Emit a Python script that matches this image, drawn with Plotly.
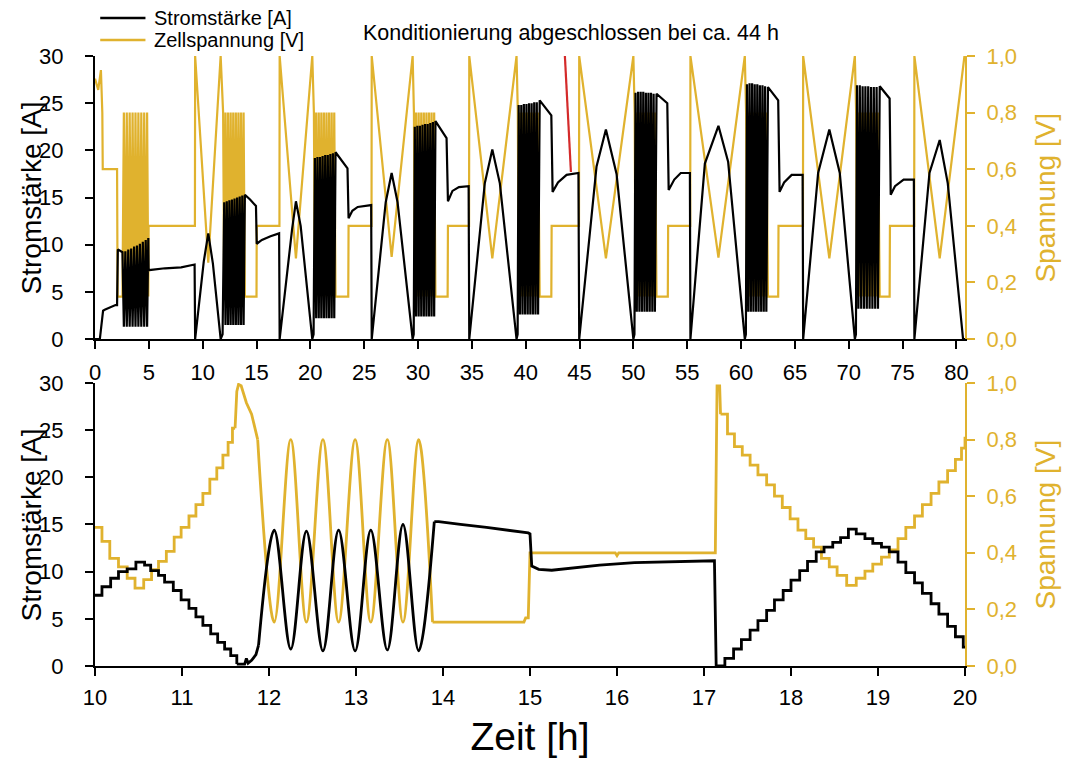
import plotly.graph_objects as go

GOLD = "#E0B22E"
FONT = "Liberation Sans, Arial, sans-serif"

# ---------------- top panel (0 - 81 h) ----------------
top_current = [
    (0.0, 0.0), (0.45, 0.0), (0.75, 3.0), (0.9, 3.1), (1.9, 3.6), (2.05, 3.6), (2.12, 9.5), (2.55, 9.2),
    (2.68, 1.3), (2.82, 9.3), (2.95, 1.3), (3.09, 9.5), (3.22, 1.3), (3.36, 9.6), (3.49, 1.3), (3.63, 9.8),
    (3.76, 1.3), (3.90, 9.9), (4.03, 1.3), (4.17, 10.1), (4.30, 1.3), (4.44, 10.3), (4.57, 1.3), (4.71, 10.5),
    (4.84, 1.3), (4.95, 10.7), (4.98, 7.3), (6.5, 7.5), (8.0, 7.6), (9.25, 7.9), (9.3, 0.0),
    (10.1, 8.2), (10.52, 11.2), (10.95, 8.0), (11.67, 0.0), (11.85, 0.5),
    (12.0, 14.5), (12.12, 1.5), (12.24, 14.6), (12.36, 1.5), (12.48, 14.7), (12.60, 1.5), (12.72, 14.8),
    (12.84, 1.5), (12.96, 14.9), (13.08, 1.5), (13.20, 15.0), (13.32, 1.5), (13.44, 15.1), (13.56, 1.5),
    (13.68, 15.2), (13.80, 1.5), (13.92, 15.3),
    (14.4, 14.8), (14.95, 14.1), (15.02, 10.1), (15.5, 10.5), (16.3, 10.9), (17.1, 11.2), (17.15, 0.0),
    (18.3, 11.6), (18.66, 14.6), (19.1, 12.0), (20.18, 0.0), (20.3, 0.5),
    (20.42, 19.2), (20.54, 2.2), (20.66, 19.3), (20.78, 2.2), (20.90, 19.3), (21.02, 2.2), (21.14, 19.4),
    (21.26, 2.2), (21.38, 19.5), (21.50, 2.2), (21.62, 19.5), (21.74, 2.2), (21.86, 19.6), (21.98, 2.2),
    (22.10, 19.7), (22.22, 2.2), (22.34, 19.8),
    (23.45, 18.1), (23.55, 12.8), (23.9, 13.6), (24.4, 14.0), (25.65, 14.2), (25.7, 0.0),
    (27.0, 14.5), (27.55, 17.6), (28.1, 14.5), (29.5, 0.0), (29.6, 0.5),
    (29.70, 22.5), (29.82, 2.4), (29.94, 22.6), (30.06, 2.4), (30.18, 22.6), (30.30, 2.4), (30.42, 22.7),
    (30.54, 2.4), (30.66, 22.8), (30.78, 2.4), (30.90, 22.8), (31.02, 2.4), (31.14, 22.9), (31.26, 2.4),
    (31.38, 23.0), (31.50, 2.4), (31.62, 23.1),
    (32.65, 21.3), (32.78, 14.6), (33.2, 15.7), (33.8, 16.1), (34.7, 16.2), (34.76, 0.0),
    (36.2, 16.5), (36.9, 20.1), (37.6, 16.5), (39.15, 0.0), (39.25, 0.5),
    (39.35, 24.8), (39.47, 2.6), (39.59, 24.8), (39.71, 2.6), (39.83, 24.9), (39.95, 2.6), (40.07, 24.9),
    (40.19, 2.6), (40.31, 25.0), (40.43, 2.6), (40.55, 25.0), (40.67, 2.6), (40.79, 25.1), (40.91, 2.6),
    (41.03, 25.1), (41.15, 2.6), (41.30, 25.3),
    (42.38, 23.7), (42.5, 15.6), (43.0, 16.6), (43.8, 17.4), (44.9, 17.6), (44.97, 0.0),
    (46.58, 18.3), (47.45, 22.2), (48.44, 17.5), (50.0, 0.0), (50.1, 0.5),
    (50.20, 26.1), (50.32, 2.9), (50.44, 26.2), (50.56, 2.9), (50.68, 26.2), (50.80, 2.9), (50.92, 26.2),
    (51.04, 2.9), (51.16, 26.1), (51.28, 2.9), (51.40, 26.1), (51.52, 2.9), (51.64, 26.1), (51.76, 2.9),
    (51.88, 26.0), (52.00, 2.9), (52.15, 26.0),
    (53.15, 25.0), (53.28, 15.8), (53.8, 16.9), (54.4, 17.6), (55.25, 17.6), (55.3, 0.0),
    (56.64, 18.6), (57.9, 22.6), (58.8, 18.8), (60.35, 0.0), (60.45, 0.5),
    (60.55, 27.0), (60.67, 2.9), (60.79, 27.1), (60.91, 2.9), (61.03, 27.1), (61.15, 2.9), (61.27, 27.0),
    (61.39, 2.9), (61.51, 27.0), (61.63, 2.9), (61.75, 26.9), (61.87, 2.9), (61.99, 26.9), (62.11, 2.9),
    (62.23, 26.8), (62.35, 2.9), (62.5, 26.7),
    (63.45, 25.3), (63.58, 15.6), (64.0, 16.6), (64.7, 17.4), (65.72, 17.4), (65.77, 0.0),
    (67.16, 17.6), (68.2, 22.2), (69.17, 17.6), (70.57, 0.0), (70.67, 0.5),
    (70.77, 26.9), (70.90, 3.2), (71.03, 26.9), (71.16, 3.2), (71.29, 26.8), (71.42, 3.2), (71.55, 26.8),
    (71.68, 3.2), (71.81, 26.8), (71.94, 3.2), (72.07, 26.7), (72.20, 3.2), (72.33, 26.7), (72.46, 3.2),
    (72.59, 26.7), (72.72, 3.2), (72.88, 26.8),
    (73.8, 25.5), (73.9, 15.3), (74.3, 16.2), (75.1, 16.9), (76.05, 16.9), (76.1, 0.0),
    (77.5, 17.6), (78.45, 21.1), (79.2, 16.5), (80.62, 0.0), (80.8, 0.0),
]

top_voltage = [
    (0.0, 0.92), (0.3, 0.88), (0.55, 0.95), (0.68, 0.80), (0.72, 0.60), (2.05, 0.60), (2.1, 0.15), (2.55, 0.15),
    (2.68, 0.80), (2.82, 0.15), (2.95, 0.80), (3.09, 0.15), (3.22, 0.80), (3.36, 0.15), (3.49, 0.80), (3.63, 0.15),
    (3.76, 0.80), (3.90, 0.15), (4.03, 0.80), (4.17, 0.15), (4.30, 0.80), (4.44, 0.15), (4.57, 0.80), (4.71, 0.15),
    (4.84, 0.80), (4.95, 0.15), (4.98, 0.40), (9.28, 0.40), (9.3, 1.0),
    (10.52, 0.27), (11.67, 1.0), (11.9, 0.80),
    (12.0, 0.15), (12.12, 0.80), (12.24, 0.15), (12.36, 0.80), (12.48, 0.15), (12.60, 0.80), (12.72, 0.15),
    (12.84, 0.80), (12.96, 0.15), (13.08, 0.80), (13.20, 0.15), (13.32, 0.80), (13.44, 0.15), (13.56, 0.80),
    (13.68, 0.15), (13.80, 0.80), (13.92, 0.15),
    (15.0, 0.15), (15.02, 0.40), (17.13, 0.40), (17.15, 1.0), (18.66, 0.285), (20.18, 1.0), (20.33, 0.80),
    (20.42, 0.15), (20.54, 0.80), (20.66, 0.15), (20.78, 0.80), (20.90, 0.15), (21.02, 0.80), (21.14, 0.15),
    (21.26, 0.80), (21.38, 0.15), (21.50, 0.80), (21.62, 0.15), (21.74, 0.80), (21.86, 0.15), (21.98, 0.80),
    (22.10, 0.15), (22.22, 0.80), (22.34, 0.15),
    (23.52, 0.15), (23.55, 0.40), (25.68, 0.40), (25.7, 1.0), (27.55, 0.29), (29.5, 1.0), (29.62, 0.80),
    (29.70, 0.15), (29.82, 0.80), (29.94, 0.15), (30.06, 0.80), (30.18, 0.15), (30.30, 0.80), (30.42, 0.15),
    (30.54, 0.80), (30.66, 0.15), (30.78, 0.80), (30.90, 0.15), (31.02, 0.80), (31.14, 0.15), (31.26, 0.80),
    (31.38, 0.15), (31.50, 0.80), (31.62, 0.15),
    (32.75, 0.15), (32.78, 0.40), (34.74, 0.40), (34.76, 1.0), (36.9, 0.285), (39.15, 1.0), (39.27, 0.80),
    (39.35, 0.15), (39.47, 0.80), (39.59, 0.15), (39.71, 0.80), (39.83, 0.15), (39.95, 0.80), (40.07, 0.15),
    (40.19, 0.80), (40.31, 0.15), (40.43, 0.80), (40.55, 0.15), (40.67, 0.80), (40.79, 0.15), (40.91, 0.80),
    (41.03, 0.15), (41.15, 0.80), (41.30, 0.15),
    (42.38, 0.15), (42.41, 0.40), (44.95, 0.40), (44.97, 1.0), (47.45, 0.285), (50.0, 1.0), (50.12, 0.80),
    (50.20, 0.15), (50.32, 0.80), (50.44, 0.15), (50.56, 0.80), (50.68, 0.15), (50.80, 0.80), (50.92, 0.15),
    (51.04, 0.80), (51.16, 0.15), (51.28, 0.80), (51.40, 0.15), (51.52, 0.80), (51.64, 0.15), (51.76, 0.80),
    (51.88, 0.15), (52.00, 0.80), (52.15, 0.15),
    (53.2, 0.15), (53.23, 0.40), (55.28, 0.40), (55.3, 1.0), (57.9, 0.288), (60.35, 1.0), (60.47, 0.80),
    (60.55, 0.15), (60.67, 0.80), (60.79, 0.15), (60.91, 0.80), (61.03, 0.15), (61.15, 0.80), (61.27, 0.15),
    (61.39, 0.80), (61.51, 0.15), (61.63, 0.80), (61.75, 0.15), (61.87, 0.80), (61.99, 0.15), (62.11, 0.80),
    (62.23, 0.15), (62.35, 0.80), (62.5, 0.15),
    (63.45, 0.15), (63.48, 0.40), (65.75, 0.40), (65.77, 1.0), (68.2, 0.285), (70.57, 1.0), (70.69, 0.80),
    (70.77, 0.15), (70.90, 0.80), (71.03, 0.15), (71.16, 0.80), (71.29, 0.15), (71.42, 0.80), (71.55, 0.15),
    (71.68, 0.80), (71.81, 0.15), (71.94, 0.80), (72.07, 0.15), (72.20, 0.80), (72.33, 0.15), (72.46, 0.80),
    (72.59, 0.15), (72.72, 0.80), (72.88, 0.15),
    (73.8, 0.15), (73.83, 0.40), (76.08, 0.40), (76.1, 1.0), (78.45, 0.285), (80.75, 1.0),
]

# marker line for end of conditioning (time h, current A)
cond_line_t = [43.64, 44.2]
cond_line_A = [30.0, 17.7]

# ---------------- bottom panel (10 - 20 h) ----------------
b_cur_stepA_t = [10.00, 10.08, 10.18, 10.27, 10.37, 10.47, 10.57, 10.64, 10.73, 10.80, 10.90, 10.99,
                 11.08, 11.16, 11.24, 11.33, 11.41, 11.49, 11.56, 11.63]
b_cur_stepA = [7.5, 8.4, 9.3, 10.0, 10.3, 11.0, 10.7, 10.1, 9.6, 8.9, 8.0, 7.0,
               6.1, 5.2, 4.3, 3.4, 2.5, 1.8, 1.1, 0.2]
b_cur_start_t = [11.63, 11.72, 11.74, 11.76, 11.80, 11.85, 11.88]
b_cur_start = [0.2, 0.2, 0.8, 0.3, 0.6, 1.2, 2.2]
b_cur_osc_t = [11.88, 12.06, 12.25, 12.43, 12.62, 12.80, 12.99, 13.17, 13.36, 13.54, 13.72, 13.90]
b_cur_osc = [2.2, 14.4, 1.8, 14.3, 1.6, 14.4, 1.6, 14.4, 1.7, 15.0, 1.6, 15.3]
b_cur_hold_t = [13.90, 13.95, 14.2, 14.5, 14.98, 15.0, 15.02, 15.1, 15.25, 15.5, 15.8, 16.2, 16.6, 17.12, 17.14, 17.15]
b_cur_hold = [15.3, 15.3, 15.0, 14.7, 14.1, 14.0, 10.6, 10.25, 10.15, 10.4, 10.7, 10.95, 11.05, 11.15, 0.0, 0.0]
b_cur_stepB_t = [17.15, 17.24, 17.34, 17.43, 17.53, 17.62, 17.72, 17.81, 17.91, 18.00, 18.10, 18.19, 18.29,
                 18.38, 18.48, 18.57, 18.66, 18.75, 18.85, 18.94, 19.04, 19.13, 19.23, 19.32, 19.42, 19.51,
                 19.61, 19.70, 19.80, 19.89, 19.98, 20.0]
b_cur_stepB = [0.0, 0.8, 1.8, 2.8, 3.8, 4.8, 5.9, 7.0, 8.0, 9.1, 10.1, 11.1, 12.1,
               12.6, 13.1, 13.6, 14.5, 14.0, 13.5, 13.0, 12.6, 12.1, 11.0, 9.9, 8.8, 7.7,
               6.6, 5.5, 4.2, 3.1, 2.0, 2.0]

b_volt_stepA_t = [10.00, 10.08, 10.17, 10.27, 10.37, 10.46, 10.56, 10.65, 10.73, 10.82, 10.91, 10.99,
                  11.08, 11.16, 11.24, 11.32, 11.40, 11.47, 11.53, 11.58, 11.61]
b_volt_stepA = [0.49, 0.44, 0.38, 0.35, 0.31, 0.275, 0.305, 0.34, 0.37, 0.405, 0.455, 0.49,
                0.53, 0.57, 0.61, 0.66, 0.70, 0.745, 0.79, 0.84, 0.84]
b_volt_peak_t = [11.61, 11.63, 11.65, 11.68, 11.74, 11.80, 11.87]
b_volt_peak = [0.84, 0.97, 0.995, 0.99, 0.93, 0.89, 0.80]
b_volt_osc_t = [11.87, 12.06, 12.25, 12.43, 12.62, 12.80, 12.99, 13.17, 13.36, 13.54, 13.72, 13.88]
b_volt_osc = [0.80, 0.155, 0.80, 0.155, 0.80, 0.155, 0.80, 0.155, 0.80, 0.155, 0.80, 0.155]
b_volt_hold_t = [13.88, 14.93, 14.95, 14.98, 15.0, 15.98, 16.0, 16.02, 17.13, 17.15, 17.18, 17.19]
b_volt_hold = [0.155, 0.155, 0.17, 0.17, 0.40, 0.40, 0.39, 0.40, 0.40, 0.99, 0.99, 0.89]
b_volt_stepB_t = [17.19, 17.27, 17.35, 17.44, 17.53, 17.62, 17.72, 17.81, 17.90, 17.99, 18.08, 18.17,
                  18.26, 18.35, 18.44, 18.53, 18.64, 18.75, 18.85, 18.94, 19.04, 19.13, 19.23, 19.32,
                  19.42, 19.51, 19.61, 19.70, 19.80, 19.89, 19.96, 20.0]
b_volt_stepB = [0.89, 0.82, 0.775, 0.745, 0.71, 0.675, 0.64, 0.60, 0.56, 0.52, 0.48, 0.45,
                0.42, 0.38, 0.35, 0.32, 0.285, 0.31, 0.335, 0.36, 0.385, 0.41, 0.45, 0.49,
                0.53, 0.57, 0.61, 0.65, 0.69, 0.73, 0.77, 0.81]

x_top_ticks = list(range(0, 81, 5))
x_bot_ticks = list(range(10, 21, 1))
y_cur_ticks = [0, 5, 10, 15, 20, 25, 30]
y_volt_ticks = [0.0, 0.2, 0.4, 0.6, 0.8, 1.0]
y_volt_text = ["0,0", "0,2", "0,4", "0,6", "0,8", "1,0"]
legend_names = ["Stromstärke [A]", "Zellspannung [V]"]

LW_TOP = 2.2
LW_BOT = 2.8
fig = go.Figure()

# top panel: voltage on base axis (y, right), current on overlaying axis (y2, left) so it is drawn on top
fig.add_trace(go.Scatter(x=[p[0] for p in top_voltage], y=[p[1] for p in top_voltage],
                         mode="lines", line=dict(color=GOLD, width=LW_TOP), name=legend_names[1],
                         xaxis="x", yaxis="y", showlegend=False))
fig.add_trace(go.Scatter(x=[p[0] for p in top_current], y=[p[1] for p in top_current],
                         mode="lines", line=dict(color="black", width=LW_TOP), name=legend_names[0],
                         xaxis="x", yaxis="y2", showlegend=False))
fig.add_trace(go.Scatter(x=cond_line_t, y=cond_line_A, mode="lines",
                         line=dict(color="#D42A2A", width=2.2), showlegend=False, xaxis="x", yaxis="y2"))


def add_b(x, y, color, yax, shape="linear"):
    fig.add_trace(go.Scatter(x=x, y=y, mode="lines", line=dict(color=color, width=LW_BOT, shape=shape),
                             showlegend=False, xaxis="x2", yaxis=yax))


add_b(b_volt_stepA_t, b_volt_stepA, GOLD, "y3", "hv")
add_b(b_volt_peak_t, b_volt_peak, GOLD, "y3")
add_b(b_volt_osc_t, b_volt_osc, GOLD, "y3", "spline")
add_b(b_volt_hold_t, b_volt_hold, GOLD, "y3")
add_b(b_volt_stepB_t, b_volt_stepB, GOLD, "y3", "hv")
add_b(b_cur_stepA_t, b_cur_stepA, "black", "y4", "hv")
add_b(b_cur_start_t, b_cur_start, "black", "y4")
add_b(b_cur_osc_t, b_cur_osc, "black", "y4", "spline")
add_b(b_cur_hold_t, b_cur_hold, "black", "y4")
add_b(b_cur_stepB_t, b_cur_stepB, "black", "y4", "hv")

tickfont = dict(family=FONT, size=22, color="black")
goldfont = dict(family=FONT, size=22, color=GOLD)
TITLE_SIZE = 28


def current_axis(over):
    return dict(overlaying=over, side="left", range=[0, 30], tickvals=y_cur_ticks, showline=True,
                linecolor="black", linewidth=2, ticks="outside", ticklen=8, tickwidth=2, tickcolor="black",
                showgrid=False, zeroline=False, tickfont=tickfont, ticklabelstandoff=17, automargin=False)


def voltage_axis(domain):
    return dict(domain=domain, side="right", range=[0, 1], tickvals=y_volt_ticks, ticktext=y_volt_text,
                showline=True, linecolor=GOLD, linewidth=2, ticks="outside", ticklen=8, tickwidth=2,
                tickcolor=GOLD, showgrid=False, zeroline=False, tickfont=goldfont, ticklabelstandoff=7,
                automargin=False)


def xaxis_common(rng, ticks, anchor, standoff):
    return dict(domain=[0, 1], anchor=anchor, range=rng, tickvals=ticks, showline=True,
                linecolor="black", linewidth=2, ticks="outside", ticklen=8, tickwidth=2, tickcolor="black",
                showgrid=False, zeroline=False, tickfont=tickfont, ticklabelstandoff=standoff,
                automargin=False)


xb = xaxis_common([10, 20], x_bot_ticks, "y3", 3)
xb["title"] = dict(text="Zeit [h]", font=dict(family=FONT, size=39, color="black"), standoff=25)

# legend drawn as line samples + text (paper coordinates)
leg_y = [1.0623, 1.0262]
leg_colors = ["black", GOLD]
shapes = []
annotations = []
for name, yy, col in zip(legend_names, leg_y, leg_colors):
    shapes.append(dict(type="line", xref="paper", yref="paper", x0=0.006, x1=0.058, y0=yy, y1=yy,
                       line=dict(color=col, width=2.6)))
    annotations.append(dict(text=name, xref="paper", yref="paper", x=0.066, y=yy, xanchor="left",
                            yanchor="middle", showarrow=False,
                            font=dict(family=FONT, size=20, color="black")))
annotations.append(dict(text="Konditionierung abgeschlossen bei ca. 44 h", xref="paper", yref="paper",
                        x=0.547, y=1.0377, xanchor="center", yanchor="middle", showarrow=False,
                        font=dict(family=FONT, size=21.5, color="black")))

# y-axis titles (rotated text, paper coordinates)
for yc in [0.768, 0.232]:
    annotations.append(dict(text="Stromstärke [A]", xref="paper", yref="paper", x=-0.0725, y=yc,
                            xanchor="center", yanchor="middle", textangle=-90, showarrow=False,
                            font=dict(family=FONT, size=TITLE_SIZE, color="black")))
    annotations.append(dict(text="Spannung [V]", xref="paper", yref="paper", x=1.092, y=yc,
                            xanchor="center", yanchor="middle", textangle=-90, showarrow=False,
                            font=dict(family=FONT, size=TITLE_SIZE, color=GOLD)))

fig.update_layout(
    width=1065, height=758,
    margin=dict(l=95, r=100, t=56, b=92, autoexpand=False),
    paper_bgcolor="white", plot_bgcolor="white",
    font=dict(family=FONT, color="black"),
    showlegend=False,
    xaxis=xaxis_common([0, 80.8], x_top_ticks, "y", 5),
    yaxis=voltage_axis([0.536, 1.0]),
    yaxis2=current_axis("y"),
    xaxis2=xb,
    yaxis3=voltage_axis([0.0, 0.464]),
    yaxis4=current_axis("y3"),
    shapes=shapes,
    annotations=annotations,
)

fig.write_html("out.html", config={"displayModeBar": False},
               post_script="document.body.style.margin='0px';document.body.style.overflow='hidden';")
